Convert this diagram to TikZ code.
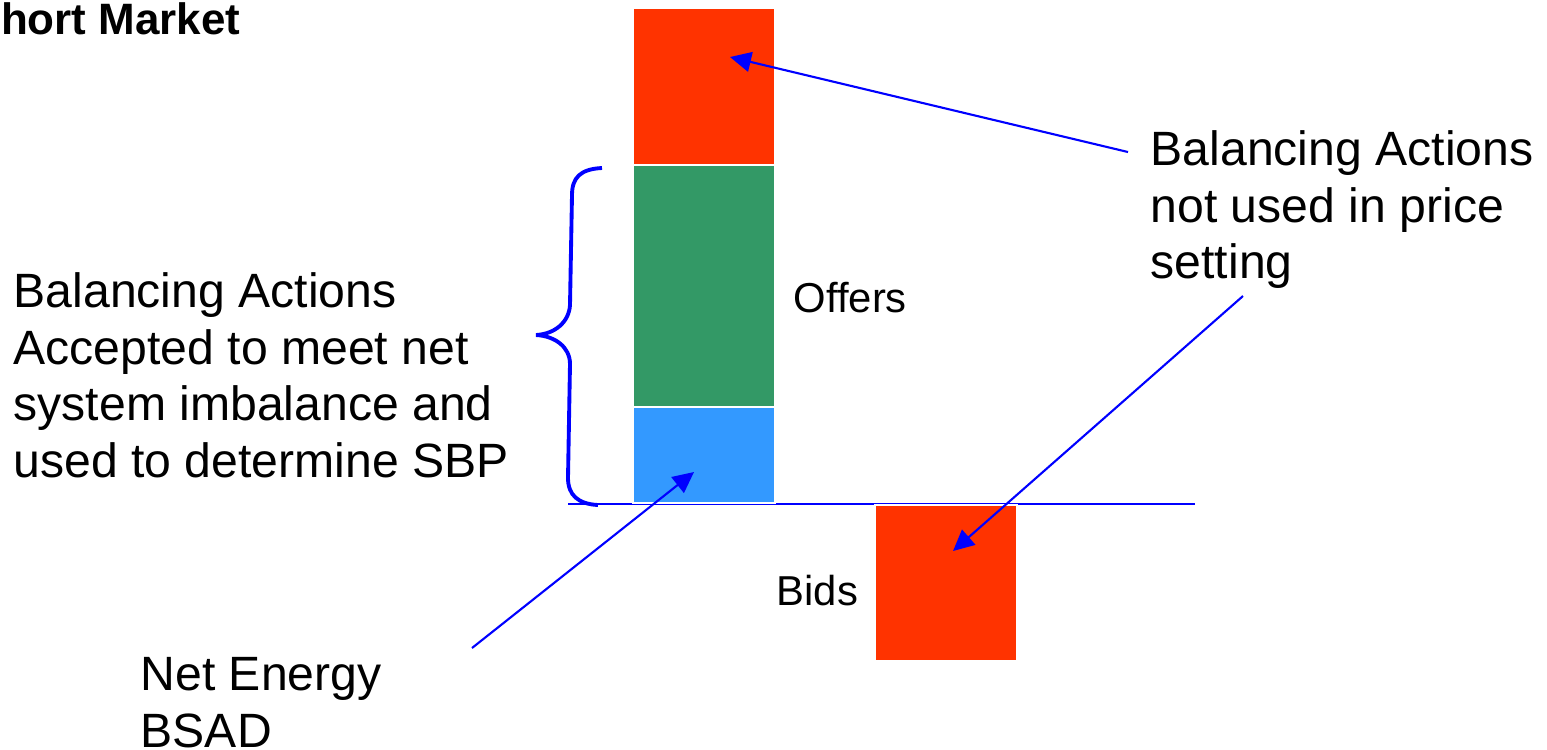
\documentclass[tikz,border=0pt]{standalone}
\usepackage{fontspec}
\setmainfont{Liberation Sans}
\usetikzlibrary{arrows.meta,positioning}
\definecolor{cred}{HTML}{FF3300}
\definecolor{cgreen}{HTML}{339966}
\definecolor{cblue}{HTML}{3399FF}
\definecolor{cline}{HTML}{0000FF}

\begin{document}
\begin{tikzpicture}[>={Triangle[length=0.21cm,width=0.2cm]},
                    bar/.style={draw=white, line width=0.02cm, outer sep=0pt, minimum width=1.42cm, inner sep=0pt, anchor=north west},
                    big/.style={font=\fontsize{13.7pt}{16.1pt}\selectfont, align=left, inner sep=0pt, anchor=north west},
                    small/.style={font=\fontsize{11.9pt}{14pt}\selectfont, inner sep=0pt, anchor=base west},
                    pointer/.style={->, cline, line width=0.6pt}]
  \useasboundingbox (0,0) rectangle (15.47,-7.49);
  % title, cut at the left edge
  \node[font=\fontsize{12.5pt}{15pt}\selectfont\bfseries, anchor=base east, inner sep=0pt] (title) at (2.41,-0.34) {Short Market};
  % zero line
  \coordinate (axisL) at (5.68,-5.04);
  \coordinate (axisR) at (11.95,-5.04);
  \draw[cline, line width=0.018cm] (axisL) -- (axisR);
  % offers stacked above the line, bids below
  \node[bar, fill=cred, minimum height=1.57cm] (upper) at (6.33,-0.08) {};
  \node[bar, fill=cgreen, minimum height=2.42cm, below=0pt of upper.south west, anchor=north west] (mid) {};
  \node[bar, fill=cblue, minimum height=0.96cm, below=0pt of mid.south west, anchor=north west] (net) {};
  \node[bar, fill=cred, minimum height=1.56cm] (bid) at (8.75,-5.05) {};
  \node[small] (offers) at (7.93,-3.12) {Offers};
  \node[small] (bids) at (7.76,-6.05) {Bids};
  % brace over the accepted actions
  \draw[cline, line width=1.1pt] (6.02,-1.68) .. controls (5.80,-1.69) and (5.72,-1.78) .. (5.72,-1.95)
    -- (5.70,-3.05) .. controls (5.69,-3.22) and (5.55,-3.34) .. (5.36,-3.35)
    .. controls (5.55,-3.36) and (5.70,-3.47) .. (5.70,-3.64)
    -- (5.68,-4.78) .. controls (5.68,-4.95) and (5.78,-5.04) .. (5.98,-5.05);
  % labels
  \node[big] (accepted) at (0.13,-2.72) {Balancing Actions\\Accepted to meet net\\system imbalance and\\used to determine SBP};
  \node[big] (unused) at (11.50,-1.30) {Balancing Actions\\not used in price\\setting};
  \node[big] (bsad) at (1.40,-6.57) {Net Energy\\BSAD};
  % pointers
  \coordinate (tailA) at (11.28,-1.52);
  \coordinate (tipA) at (7.30,-0.57);
  \coordinate (tailB) at (12.43,-2.96);
  \coordinate (tipB) at (9.53,-5.51);
  \coordinate (tailC) at (4.72,-6.48);
  \coordinate (tipC) at (6.94,-4.72);
  \draw[pointer] (tailA) -- (tipA);
  \draw[pointer] (tailB) -- (tipB);
  \draw[pointer] (tailC) -- (tipC);
\end{tikzpicture}
\end{document}
